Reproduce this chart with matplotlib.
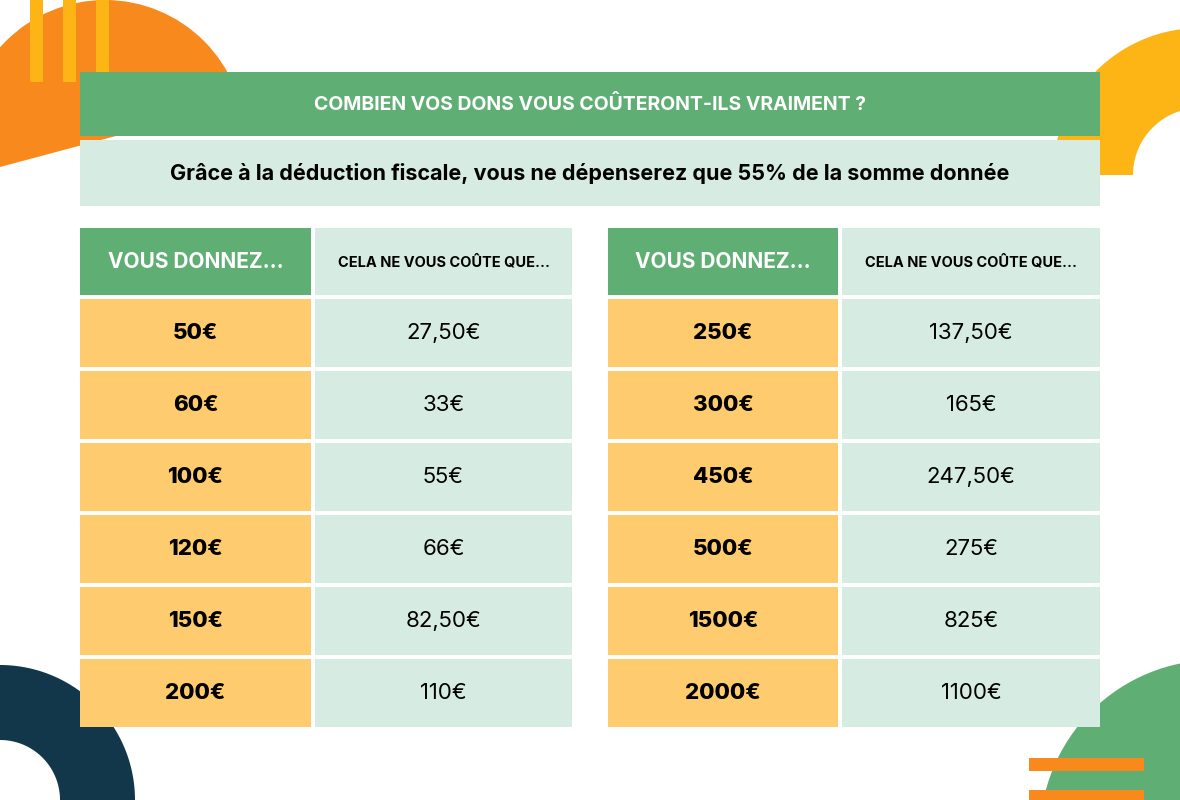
import numpy as np
import matplotlib
matplotlib.use("Agg")
import matplotlib.pyplot as plt
from matplotlib.patches import Rectangle, Polygon, Circle

title = "COMBIEN VOS DONS VOUS COÛTERONT-ILS VRAIMENT ?"
subtitle = "Grâce à la déduction fiscale, vous ne dépenserez que 55% de la somme donnée"
head1 = "VOUS DONNEZ..."
head2 = "CELA NE VOUS COÛTE QUE..."
left_don = ["50€", "60€", "100€", "120€", "150€", "200€"]
left_cout = ["27,50€", "33€", "55€", "66€", "82,50€", "110€"]
right_don = ["250€", "300€", "450€", "500€", "1500€", "2000€"]
right_cout = ["137,50€", "165€", "247,50€", "275€", "825€", "1100€"]

GREEN = "#5FAE74"; MINT = "#D6ECE3"; ORANGE = "#F8891D"; YEL = "#FDB515"
SAND = "#FECC6E"; NAVY = "#12374A"
FONT = "Inter"

fig = plt.figure(figsize=(11.8, 8), dpi=100)
ax = fig.add_axes([0, 0, 1, 1])
ax.set_xlim(0, 1180); ax.set_ylim(800, 0); ax.axis("off")

def ring(cx, cy, ro, ri, a0, a1, color):
    t = np.linspace(np.radians(a0), np.radians(a1), 200)
    xo = cx + ro*np.cos(t); yo = cy - ro*np.sin(t)
    xi = cx + ri*np.cos(t[::-1]); yi = cy - ri*np.sin(t[::-1])
    ax.add_patch(Polygon(np.c_[np.r_[xo, xi], np.r_[yo, yi]], closed=True, color=color, lw=0, zorder=1))

c = Circle((105, 140), 140, color=ORANGE, lw=0, zorder=1)
ax.add_patch(c)
clip = Polygon([[-10, -10], [400, -10], [400, 60], [0, 167]], closed=True, transform=ax.transData)
c.set_clip_path(clip)
for x0 in (30, 63, 96):
    ax.add_patch(Rectangle((x0, 0), 13, 82, color=YEL, lw=0, zorder=2))
ring(1200, 175, 147, 67, 90, 180, YEL)
ring(0, 800, 135, 60, 0, 90, NAVY)
ax.add_patch(Circle((1215, 835), 175, color=GREEN, lw=0, zorder=1))
for y0, h in ((758, 13), (790, 12)):
    ax.add_patch(Rectangle((1029, y0), 115, h, color=ORANGE, lw=0, zorder=2))

ax.add_patch(Rectangle((80, 72), 1020, 64, color=GREEN, lw=0, zorder=3))
ax.text(590, 104, title, color="white", fontsize=14, fontweight="bold", family=FONT, ha="center", va="center", zorder=4)
ax.add_patch(Rectangle((80, 140), 1020, 66, color=MINT, lw=0, zorder=3))
ax.text(590, 173, subtitle, color="black", fontsize=15.5, fontweight="bold", family=FONT, ha="center", va="center", zorder=4)

def table(x1, w1, x2, w2, dons, couts):
    ax.add_patch(Rectangle((x1, 228), w1, 67, color=GREEN, lw=0, zorder=3))
    ax.text(x1 + w1/2, 262, head1, color="white", fontsize=15, fontweight="bold", family=FONT, ha="center", va="center", zorder=4)
    ax.add_patch(Rectangle((x2, 228), w2, 67, color=MINT, lw=0, zorder=3))
    ax.text(x2 + w2/2, 262, head2, color="black", fontsize=10.5, fontweight="bold", family=FONT, ha="center", va="center", zorder=4)
    for i, (d, cv) in enumerate(zip(dons, couts)):
        y = 299 + i*72
        ax.add_patch(Rectangle((x1, y), w1, 68, color=SAND, lw=0, zorder=3))
        ax.text(x1 + w1/2, y + 34, d, color="black", fontsize=16, fontweight="heavy", family=FONT, ha="center", va="center", zorder=4)
        ax.add_patch(Rectangle((x2, y), w2, 68, color=MINT, lw=0, zorder=3))
        ax.text(x2 + w2/2, y + 34, cv, color="black", fontsize=16, family=FONT, ha="center", va="center", zorder=4)

table(80, 231, 315, 257, left_don, left_cout)
table(608, 230, 842, 258, right_don, right_cout)

fig.savefig("out.png", dpi=100, facecolor="white")
